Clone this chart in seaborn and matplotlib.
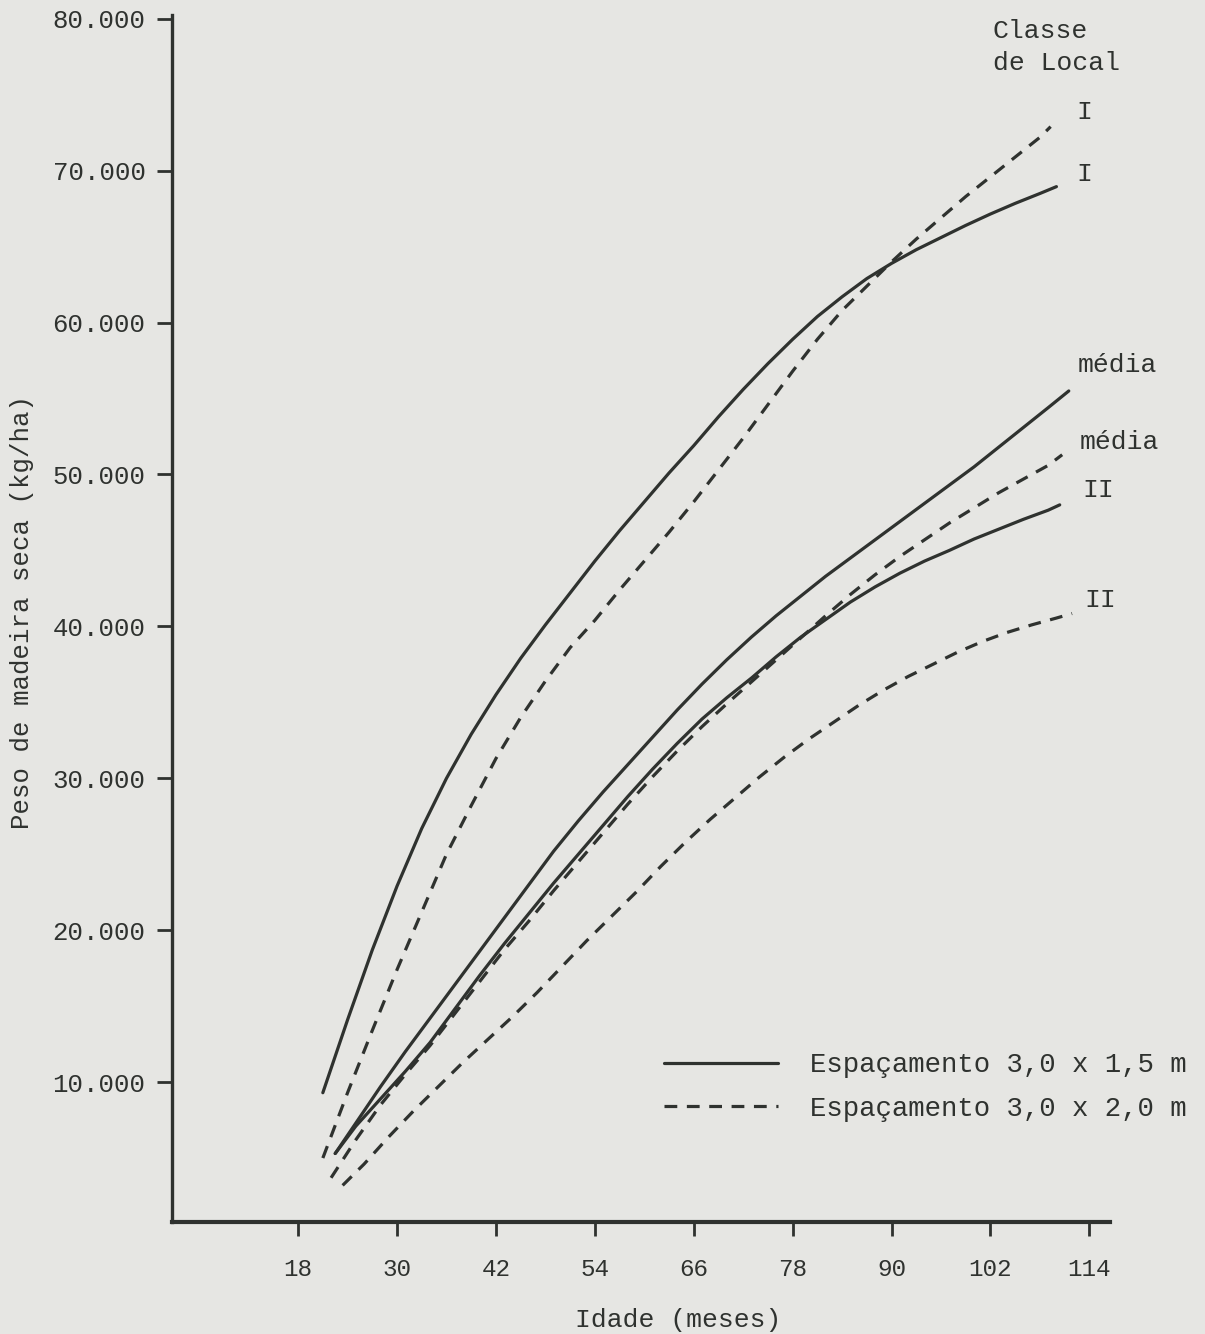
import matplotlib
matplotlib.use("Agg")
import matplotlib.pyplot as plt
import seaborn as sns
import pandas as pd
from matplotlib.lines import Line2D

# ---------------- data ----------------
# Espaçamento 3,0 x 1,5 m (solid)
idade_15_I = [21, 24, 27, 30, 33, 36, 39, 42, 45, 48, 51, 54, 57, 60, 63, 66, 69, 72,
              75, 78, 81, 84, 87, 90, 93, 96, 99, 102, 105, 108, 110]
peso_15_I = [9300, 14100, 18700, 22900, 26700, 30000, 32900, 35500, 37900, 40100, 42200,
             44300, 46300, 48200, 50100, 51900, 53800, 55600, 57300, 58900, 60400, 61700,
             62900, 63900, 64800, 65600, 66400, 67150, 67850, 68500, 68950]

idade_15_M = [22.5, 25, 28, 31, 34, 37, 40, 43, 46, 49, 52, 55, 58, 61, 64, 67, 70, 73,
              76, 79, 82, 85, 88, 91, 94, 97, 100, 103, 106, 109, 111.5]
peso_15_M = [5300, 7300, 9700, 12000, 14200, 16400, 18600, 20800, 23000, 25200, 27200,
             29100, 30900, 32700, 34500, 36200, 37800, 39300, 40700, 42000, 43300, 44500,
             45700, 46900, 48100, 49300, 50500, 51800, 53100, 54400, 55500]

idade_15_II = [22.5, 25, 28, 31, 34, 37, 40, 43, 46, 49, 52, 55, 58, 61, 64, 67, 70, 73,
               76, 79, 82, 85, 88, 91, 94, 97, 100, 103, 106, 109, 110.4]
peso_15_II = [5300, 7100, 8900, 10700, 12600, 14800, 17000, 19100, 21100, 23100, 25000,
              26900, 28800, 30600, 32300, 33900, 35300, 36600, 38000, 39300, 40450, 41600,
              42600, 43500, 44300, 45000, 45750, 46400, 47050, 47650, 48000]

# Espaçamento 3,0 x 2,0 m (dashed)
idade_20_I = [21, 24, 27, 30, 33, 36, 39, 42, 45, 48, 51, 54, 57, 60, 63, 66, 69, 72,
              75, 78, 81, 84, 87, 90, 93, 96, 99, 102, 105, 108, 109.3]
peso_20_I = [5000, 9300, 13400, 17400, 21200, 25000, 28200, 31300, 34000, 36400, 38600,
             40400, 42400, 44300, 46200, 48200, 50300, 52400, 54600, 56800, 58900, 60800,
             62400, 64000, 65500, 66900, 68300, 69600, 70900, 72200, 72900]

idade_20_M = [22, 25, 28, 31, 34, 37, 40, 43, 46, 49, 52, 55, 58, 61, 64, 67, 70, 73,
              76, 79, 82, 85, 88, 91, 94, 97, 100, 103, 106, 109, 110.7]
peso_20_M = [3700, 6200, 8500, 10500, 12400, 14500, 16600, 18700, 20600, 22600, 24500,
             26400, 28300, 30100, 31800, 33400, 34900, 36350, 37800, 39250, 40700, 42100,
             43400, 44600, 45700, 46800, 47800, 48800, 49700, 50600, 51300]

idade_20_II = [23.4, 26, 29, 32, 35, 38, 41, 44, 47, 50, 53, 56, 59, 62, 65, 68, 71, 74,
               77, 80, 83, 86, 89, 92, 95, 98, 101, 104, 107, 110, 111.9]
peso_20_II = [3200, 4600, 6400, 8100, 9700, 11300, 12800, 14300, 15900, 17600, 19300,
              20900, 22500, 24200, 25800, 27300, 28700, 30100, 31400, 32600, 33700, 34800,
              35800, 36700, 37500, 38300, 39000, 39600, 40100, 40550, 40850]

espacamentos = ["Espaçamento 3,0 x 1,5 m", "Espaçamento 3,0 x 2,0 m"]
classes = ["I", "média", "II"]

x_ticks = [18, 30, 42, 54, 66, 78, 90, 102, 114]
x_tick_labels = ["18", "30", "42", "54", "66", "78", "90", "102", "114"]
y_ticks = [10000, 20000, 30000, 40000, 50000, 60000, 70000, 80000]
y_tick_labels = ["10.000", "20.000", "30.000", "40.000", "50.000", "60.000",
                 "70.000", "80.000"]

x_label = "Idade (meses)"
y_label = "Peso de madeira seca (kg/ha)"
title_lines = ["Classe", "de Local"]

# ---------------- build table ----------------
series = [
    (espacamentos[0], classes[0], idade_15_I, peso_15_I),
    (espacamentos[0], classes[1], idade_15_M, peso_15_M),
    (espacamentos[0], classes[2], idade_15_II, peso_15_II),
    (espacamentos[1], classes[0], idade_20_I, peso_20_I),
    (espacamentos[1], classes[1], idade_20_M, peso_20_M),
    (espacamentos[1], classes[2], idade_20_II, peso_20_II),
]
frames = []
for esp, cls, xs, ys in series:
    frames.append(pd.DataFrame({"Idade": xs, "Peso": ys, "Espaçamento": esp,
                                "Classe": cls, "curva": esp + " " + cls}))
df = pd.concat(frames, ignore_index=True)

# ---------------- style ----------------
sns.set_theme(style="ticks")
plt.rcParams["font.family"] = ["Liberation Mono", "DejaVu Sans Mono"]

BG = "#e6e6e3"
INK = "#2f322f"
W, H = 1205, 1334

fig = plt.figure(figsize=(W / 100, H / 100), dpi=100, facecolor=BG)
ax = fig.add_axes([172 / W, 1 - 1222 / H, (1110 - 172) / W, (1222 - 15) / H])
ax.set_facecolor(BG)

DASH = (4, 3)
sns.lineplot(data=df, x="Idade", y="Peso", units="curva", estimator=None,
             style="Espaçamento", dashes={espacamentos[0]: "", espacamentos[1]: DASH},
             color=INK, linewidth=2.3, sort=False, legend=False, ax=ax)

ax.set_xlim(2.7, 116.5)
ax.set_ylim(790, 80250)

ax.set_xticks(x_ticks)
ax.set_xticklabels(x_tick_labels)
ax.set_yticks(y_ticks)
ax.set_yticklabels(y_tick_labels)

ax.tick_params(axis="x", direction="out", length=10, width=2.0, pad=16,
               labelsize=17.5, colors=INK, bottom=True)
ax.tick_params(axis="y", direction="out", length=11, width=2.0, pad=8,
               labelsize=18.5, colors=INK, left=True)

for s in ["top", "right"]:
    ax.spines[s].set_visible(False)
ax.spines["left"].set_linewidth(2.4)
ax.spines["bottom"].set_linewidth(3.0)
ax.spines["left"].set_color(INK)
ax.spines["bottom"].set_color(INK)

ax.set_xlabel(x_label, fontsize=19, color=INK)
ax.set_ylabel(y_label, fontsize=18.5, color=INK)
ax.xaxis.set_label_coords((678 - 172) / (1110 - 172), (1222 - 1320) / (1222 - 15))
ax.yaxis.set_label_coords((22 - 172) / (1110 - 172), (1222 - 612) / (1222 - 15))
ax.xaxis.label.set_verticalalignment("center")
ax.yaxis.label.set_verticalalignment("center")

# legend
handles = [Line2D([], [], color=INK, lw=2.3),
           Line2D([], [], color=INK, lw=2.3, dashes=DASH)]
leg = ax.legend(handles=handles, labels=espacamentos, frameon=False,
                loc="center left", bbox_to_anchor=(664 / W, 1 - 1087 / H),
                bbox_transform=fig.transFigure, handlelength=4.15,
                handletextpad=1.2, labelspacing=0.64, borderpad=0,
                borderaxespad=0, fontsize=19.7, labelcolor=INK)

# header and curve labels
def ftext(px, py, s, **kw):
    fig.text(px / W, 1 - py / H, s, color=INK, fontsize=19, **kw)

ftext(993, 31, title_lines[0], ha="left", va="center")
ftext(993, 63, title_lines[1], ha="left", va="center")
ftext(1076, 112, classes[0], ha="left", va="center")
ftext(1076, 174, classes[0], ha="left", va="center")
ftext(1078, 365, classes[1], ha="left", va="center")
ftext(1080, 442, classes[1], ha="left", va="center")
ftext(1082, 490, classes[2], ha="left", va="center")
ftext(1084, 600, classes[2], ha="left", va="center")

fig.savefig("out.png", dpi=100, facecolor=BG)
